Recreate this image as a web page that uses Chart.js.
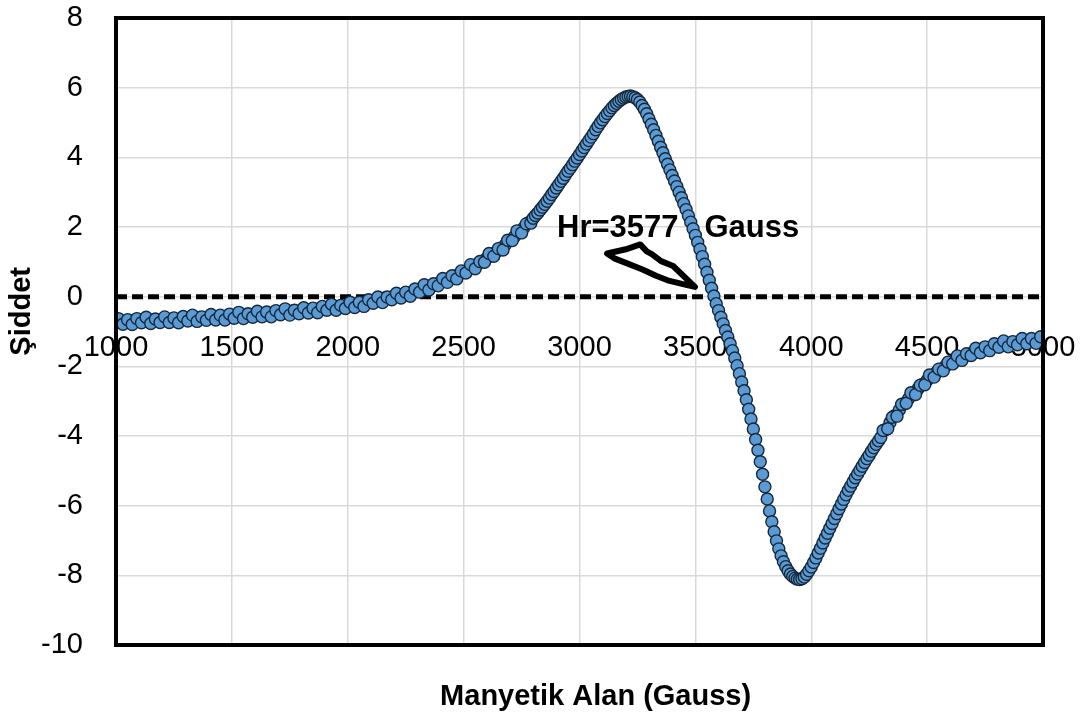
<!DOCTYPE html>
<html>
<head>
<meta charset="utf-8">
<script src="https://cdn.jsdelivr.net/npm/chart.js@4.4.1/dist/chart.umd.min.js"></script>
<style>
  html, body { margin: 0; padding: 0; background: #fff; }
  #chart-container { width: 1091px; height: 719px; }
</style>
</head>
<body>
<div id="chart-container"><canvas id="esr-chart" width="1091" height="719"></canvas></div>
<script>
// Manyetik alan (Gauss) - low field part, 20 G step
var fieldLow = [
    1000, 1020, 1040, 1060, 1080, 1100, 1120, 1140, 1160, 1180,
    1200, 1220, 1240, 1260, 1280, 1300, 1320, 1340, 1360, 1380,
    1400, 1420, 1440, 1460, 1480, 1500, 1520, 1540, 1560, 1580,
    1600, 1620, 1640, 1660, 1680, 1700, 1720, 1740, 1760, 1780,
    1800, 1820, 1840, 1860, 1880, 1900, 1920, 1940, 1960, 1980,
    2000, 2020, 2040, 2060, 2080, 2100, 2120, 2140, 2160, 2180,
    2200, 2220, 2240, 2260, 2280, 2300, 2320, 2340, 2360, 2380,
    2400, 2420, 2440, 2460, 2480, 2500, 2520, 2540, 2560, 2580,
    2600, 2620, 2640, 2660, 2680, 2700, 2720, 2740, 2760, 2780
];
var intensityLow = [
    -0.74, -0.70, -0.73, -0.69, -0.72, -0.70, -0.68, -0.71, -0.67, -0.69,
    -0.66, -0.68, -0.65, -0.67, -0.63, -0.65, -0.62, -0.64, -0.60, -0.62,
    -0.59, -0.61, -0.57, -0.59, -0.55, -0.57, -0.53, -0.55, -0.52, -0.53,
    -0.50, -0.52, -0.48, -0.50, -0.46, -0.48, -0.44, -0.46, -0.42, -0.44,
    -0.40, -0.41, -0.37, -0.39, -0.34, -0.36, -0.31, -0.32, -0.28, -0.29,
    -0.25, -0.25, -0.20, -0.21, -0.15, -0.15, -0.10, -0.10, -0.04, -0.05,
    0.01, 0.02, 0.07, 0.09, 0.14, 0.17, 0.22, 0.26, 0.31, 0.35,
    0.41, 0.46, 0.52, 0.58, 0.64, 0.71, 0.78, 0.86, 0.93, 1.02,
    1.10, 1.19, 1.28, 1.39, 1.49, 1.61, 1.73, 1.86, 1.98, 2.12
];
// second (noisier) sweep of the same field range
var fieldLow2 = [
    1010, 1030, 1050, 1070, 1090, 1110, 1130, 1150, 1170, 1190,
    1210, 1230, 1250, 1270, 1290, 1310, 1330, 1350, 1370, 1390,
    1410, 1430, 1450, 1470, 1490, 1510, 1530, 1550, 1570, 1590,
    1610, 1630, 1650, 1670, 1690, 1710, 1730, 1750, 1770, 1790,
    1810, 1830, 1850, 1870, 1890, 1910, 1930, 1950, 1970, 1990,
    2010, 2030, 2050, 2070, 2090, 2110, 2130, 2150, 2170, 2190,
    2210, 2230, 2250, 2270, 2290, 2310, 2330, 2350, 2370, 2390,
    2410, 2430, 2450, 2470, 2490, 2510, 2530, 2550, 2570, 2590,
    2610, 2630, 2650, 2670, 2690, 2710, 2730, 2750, 2770, 2790
];
var intensityLow2 = [
    -0.63, -0.79, -0.66, -0.80, -0.63, -0.75, -0.59, -0.77, -0.64, -0.74,
    -0.58, -0.74, -0.61, -0.75, -0.57, -0.70, -0.53, -0.71, -0.58, -0.68,
    -0.51, -0.67, -0.53, -0.67, -0.50, -0.62, -0.45, -0.63, -0.49, -0.59,
    -0.42, -0.58, -0.44, -0.58, -0.40, -0.52, -0.35, -0.53, -0.39, -0.49,
    -0.32, -0.47, -0.33, -0.46, -0.28, -0.39, -0.22, -0.39, -0.25, -0.34,
    -0.16, -0.31, -0.16, -0.28, -0.09, -0.19, -0.01, -0.17, -0.01, -0.09,
    0.10, -0.04, 0.13, 0.01, 0.22, 0.13, 0.34, 0.19, 0.37, 0.31,
    0.52, 0.41, 0.60, 0.51, 0.74, 0.68, 0.92, 0.80, 1.01, 0.99,
    1.24, 1.16, 1.38, 1.34, 1.62, 1.61, 1.89, 1.83, 2.09, 2.11
];

// resonance part, 10 G step
var fieldMid = [
    2800, 2810, 2820, 2830, 2840, 2850, 2860, 2870, 2880, 2890,
    2900, 2910, 2920, 2930, 2940, 2950, 2960, 2970, 2980, 2990,
    3000, 3010, 3020, 3030, 3040, 3050, 3060, 3070, 3080, 3090,
    3100, 3110, 3120, 3130, 3140, 3150, 3160, 3170, 3180, 3190,
    3200, 3210, 3220, 3230, 3240, 3250, 3260, 3270, 3280, 3290,
    3300, 3310, 3320, 3330, 3340, 3350, 3360, 3370, 3380, 3390,
    3400, 3410, 3420, 3430, 3440, 3450, 3460, 3470, 3480, 3490,
    3500, 3510, 3520, 3530, 3540, 3550, 3560, 3570, 3580, 3590,
    3600, 3610, 3620, 3630, 3640, 3650, 3660, 3670, 3680, 3690,
    3700, 3710, 3720, 3730, 3740, 3750, 3760, 3770, 3780, 3790,
    3800, 3810, 3820, 3830, 3840, 3850, 3860, 3870, 3880, 3890,
    3900, 3910, 3920, 3930, 3940, 3950, 3960, 3970, 3980, 3990,
    4000, 4010, 4020, 4030, 4040, 4050, 4060, 4070, 4080, 4090,
    4100, 4110, 4120, 4130, 4140, 4150, 4160, 4170, 4180, 4190,
    4200, 4210, 4220, 4230, 4240, 4250, 4260, 4270, 4280, 4290,
    4300
];
var intensityMid = [
    2.25, 2.33, 2.40, 2.49, 2.57, 2.65, 2.74, 2.83, 2.93, 3.02,
    3.12, 3.21, 3.31, 3.40, 3.50, 3.60, 3.69, 3.79, 3.89, 3.98,
    4.08, 4.18, 4.28, 4.38, 4.48, 4.58, 4.68, 4.79, 4.89, 4.99,
    5.08, 5.17, 5.26, 5.34, 5.42, 5.49, 5.55, 5.61, 5.66, 5.70,
    5.73, 5.75, 5.76, 5.74, 5.71, 5.66, 5.59, 5.49, 5.38, 5.25,
    5.10, 4.95, 4.79, 4.63, 4.46, 4.29, 4.13, 3.96, 3.80, 3.64,
    3.48, 3.32, 3.16, 3.00, 2.84, 2.67, 2.50, 2.32, 2.14, 1.95,
    1.76, 1.56, 1.36, 1.15, 0.93, 0.70, 0.47, 0.24, 0.02, -0.20,
    -0.40, -0.59, -0.78, -0.97, -1.16, -1.35, -1.55, -1.76, -1.98, -2.21,
    -2.45, -2.70, -2.96, -3.23, -3.51, -3.80, -4.10, -4.41, -4.74, -5.10,
    -5.46, -5.81, -6.15, -6.46, -6.75, -7.01, -7.24, -7.44, -7.61, -7.75,
    -7.87, -7.96, -8.03, -8.08, -8.11, -8.12, -8.10, -8.05, -7.97, -7.87,
    -7.76, -7.63, -7.50, -7.36, -7.22, -7.07, -6.93, -6.79, -6.65, -6.51,
    -6.37, -6.23, -6.09, -5.95, -5.82, -5.69, -5.56, -5.44, -5.32, -5.20,
    -5.09, -4.98, -4.87, -4.76, -4.65, -4.55, -4.44, -4.34, -4.24, -4.14,
    -4.04
];

// high field tail, 20 G step
var fieldHigh = [
    4320, 4340, 4360, 4380, 4400, 4420, 4440, 4460, 4480, 4500,
    4520, 4540, 4560, 4580, 4600, 4620, 4640, 4660, 4680, 4700,
    4720, 4740, 4760, 4780, 4800, 4820, 4840, 4860, 4880, 4900,
    4920, 4940, 4960, 4980, 5000
];
var intensityHigh = [
    -3.82, -3.61, -3.42, -3.25, -3.08, -2.93, -2.79, -2.65, -2.52, -2.40,
    -2.29, -2.18, -2.08, -1.99, -1.91, -1.84, -1.77, -1.71, -1.65, -1.60,
    -1.55, -1.51, -1.47, -1.44, -1.41, -1.38, -1.36, -1.34, -1.32, -1.30,
    -1.28, -1.26, -1.24, -1.23, -1.21
];
var fieldHigh2 = [
    4310, 4330, 4350, 4370, 4390, 4410, 4430, 4450, 4470, 4490,
    4510, 4530, 4550, 4570, 4590, 4610, 4630, 4650, 4670, 4690,
    4710, 4730, 4750, 4770, 4790, 4810, 4830, 4850, 4870, 4890,
    4910, 4930, 4950, 4970, 4990
];
var intensityHigh2 = [
    -3.84, -3.79, -3.46, -3.43, -3.09, -3.06, -2.76, -2.81, -2.54, -2.53,
    -2.25, -2.31, -2.08, -2.13, -1.88, -1.93, -1.70, -1.83, -1.64, -1.69,
    -1.48, -1.61, -1.44, -1.55, -1.35, -1.45, -1.27, -1.44, -1.29, -1.38,
    -1.20, -1.35, -1.20, -1.34, -1.15
];

// axes
var xTicks = [1000, 1500, 2000, 2500, 3000, 3500, 4000, 4500, 5000];
var yTicks = [-10, -8, -6, -4, -2, 0, 2, 4, 6, 8];

// annotation (Hr) : text anchor and hand drawn arrow, in data units
var hrLabel = "Hr=3577   Gauss";
var hrLabelAt = [2903, 1.72];
var hrArrowX = [3119, 3200, 3262, 3290, 3312, 3352, 3404, 3498, 3460, 3380, 3330, 3272, 3200, 3150];
var hrArrowY = [1.24, 1.36, 1.50, 1.30, 1.22, 1.02, 0.88, 0.28, 0.34, 0.47, 0.60, 0.78, 0.97, 1.10];


function buildPoints(xs, ys) {
    var pts = [];
    for (var i = 0; i < xs.length; i++) {
        pts.push({x: xs[i], y: ys[i]});
    }
    return pts;
}

var points = buildPoints(fieldLow, intensityLow)
    .concat(buildPoints(fieldLow2, intensityLow2))
    .concat(buildPoints(fieldMid, intensityMid))
    .concat(buildPoints(fieldHigh, intensityHigh))
    .concat(buildPoints(fieldHigh2, intensityHigh2));

/**
 * zero line, frame and the Hr annotation
 */
var decorPlugin = {
    id: 'decor',
    beforeDatasetsDraw: function (chart) {
        var ctx = chart.ctx, area = chart.chartArea;
        var y0 = chart.scales.y.getPixelForValue(0);
        ctx.save();
        ctx.strokeStyle = '#000';
        ctx.lineWidth = 5;
        ctx.setLineDash([11, 5]);
        ctx.beginPath();
        ctx.moveTo(area.left, y0);
        ctx.lineTo(area.right, y0);
        ctx.stroke();
        ctx.restore();
    },
    afterDatasetsDraw: function (chart) {
        var ctx = chart.ctx, area = chart.chartArea;
        var sx = chart.scales.x, sy = chart.scales.y;
        ctx.save();

        // frame
        ctx.strokeStyle = '#000';
        ctx.lineWidth = 4;
        ctx.strokeRect(area.left, area.top, area.right - area.left, area.bottom - area.top);

        // text
        ctx.fillStyle = '#000';
        ctx.font = 'bold 31px "Liberation Sans", Arial, sans-serif';
        ctx.textBaseline = 'alphabetic';
        ctx.textAlign = 'left';
        ctx.fillText(hrLabel, sx.getPixelForValue(hrLabelAt[0]), sy.getPixelForValue(hrLabelAt[1]));

        // arrow
        ctx.lineWidth = 6;
        ctx.lineJoin = 'round';
        ctx.beginPath();
        for (var i = 0; i < hrArrowX.length; i++) {
            var px = sx.getPixelForValue(hrArrowX[i]);
            var py = sy.getPixelForValue(hrArrowY[i]);
            if (i === 0) ctx.moveTo(px, py); else ctx.lineTo(px, py);
        }
        ctx.closePath();
        ctx.stroke();
        ctx.restore();
    }
};

var tickFont = {family: '"Liberation Sans", Arial, sans-serif', size: 29};
var titleFont = {family: '"Liberation Sans", Arial, sans-serif', size: 29, weight: 'bold'};
var plainLabel = function (value) { return String(value); };

var ctx = document.getElementById('esr-chart').getContext('2d');
var chart = new Chart(ctx, {
    type: 'scatter',
    data: {
        datasets: [{
            label: 'Şiddet',
            data: points,
            pointRadius: 6,
            pointBorderWidth: 1.4,
            pointBackgroundColor: '#5B9BD5',
            pointBorderColor: '#17283a'
        }]
    },
    options: {
        responsive: false,
        devicePixelRatio: 1,
        animation: false,
        layout: {padding: {top: 18, right: 48, bottom: 0, left: 0}},
        plugins: {
            legend: {display: false},
            tooltip: {enabled: false}
        },
        scales: {
            x: {
                type: 'linear',
                position: {y: 0},
                min: 1000,
                max: 5000,
                afterBuildTicks: function (scale) {
                    scale.ticks = xTicks.map(function (v) { return {value: v}; });
                },
                ticks: {font: tickFont, color: '#000', padding: 0, autoSkip: false, maxRotation: 0, callback: plainLabel},
                grid: {color: '#d9d9d9', lineWidth: 1.5, drawTicks: true, tickLength: 34, tickColor: 'rgba(0,0,0,0)'},
                border: {display: false}
            },
            xTitle: {
                type: 'linear',
                axis: 'x',
                position: 'bottom',
                min: 1000,
                max: 5000,
                ticks: {display: false},
                grid: {display: false, drawTicks: false},
                border: {display: false},
                title: {display: true, text: '    Manyetik Alan (Gauss)', font: titleFont, color: '#000', padding: {top: 0, bottom: 5}},
                afterFit: function (scale) { scale.height = 74; }
            },
            y: {
                type: 'linear',
                min: -10,
                max: 8,
                afterBuildTicks: function (scale) {
                    scale.ticks = yTicks.map(function (v) { return {value: v}; });
                },
                ticks: {font: tickFont, color: '#000', padding: 0, callback: plainLabel},
                grid: {color: '#d9d9d9', lineWidth: 1.5, drawTicks: true, tickLength: 33, tickColor: 'rgba(0,0,0,0)'},
                border: {display: false},
                title: {display: true, text: '     Şiddet', font: titleFont, color: '#000', padding: {top: 5, bottom: 0}},
                afterFit: function (scale) { scale.width = 116; }
            }
        }
    },
    plugins: [decorPlugin]
});
</script>
</body>
</html>
